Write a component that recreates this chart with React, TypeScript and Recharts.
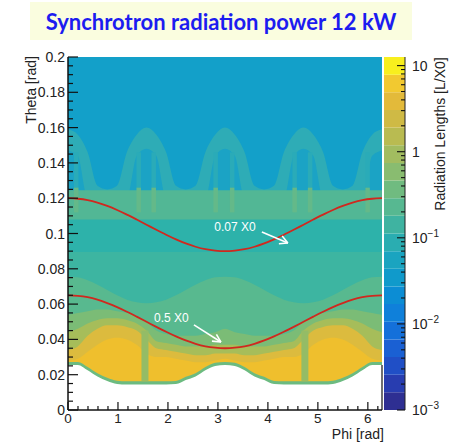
import React from 'react';
import {
  Area,
  Bar,
  BarChart,
  ComposedChart,
  Line,
  ReferenceArea,
  ReferenceDot,
  ReferenceLine,
  XAxis,
  YAxis,
} from 'recharts';

const FONT = '"Liberation Sans", Arial, Helvetica, sans-serif';

// phi grid 0 .. 2pi (pi/16 steps)
const phi = [0, 0.196, 0.393, 0.589, 0.785, 0.982, 1.178, 1.374, 1.571, 1.767, 1.963, 2.16, 2.356, 2.553, 2.749, 2.945, 3.142,
  3.338, 3.534, 3.731, 3.927, 4.123, 4.32, 4.516, 4.712, 4.909, 5.105, 5.301, 5.498, 5.694, 5.89, 6.087, 6.283];

// upper edges (theta) of each material-map band
const archOuter = [0.159, 0.156, 0.146, 0.127, 0.125, 0.127, 0.146, 0.156, 0.16, 0.156, 0.146, 0.127, 0.125, 0.127, 0.146, 0.156, 0.16,
  0.156, 0.146, 0.127, 0.125, 0.127, 0.146, 0.156, 0.16, 0.156, 0.146, 0.127, 0.125, 0.127, 0.146, 0.156, 0.159];
const archInner = [0.147, 0.144, 0.12, 0.12, 0.12, 0.12, 0.12, 0.144, 0.148, 0.144, 0.12, 0.12, 0.12, 0.12, 0.12, 0.144, 0.148,
  0.144, 0.12, 0.12, 0.12, 0.12, 0.12, 0.144, 0.148, 0.144, 0.12, 0.12, 0.12, 0.12, 0.12, 0.144, 0.147];
const greenTop = [0.1245, 0.1245, 0.1245, 0.1245, 0.1245, 0.1245, 0.1245, 0.1245, 0.1245, 0.1245, 0.1245, 0.1245, 0.1245, 0.1245, 0.1245, 0.1245, 0.1245,
  0.1245, 0.1245, 0.1245, 0.1245, 0.1245, 0.1245, 0.1245, 0.1245, 0.1245, 0.1245, 0.1245, 0.1245, 0.1245, 0.1245, 0.1245, 0.1245];
const tealTop = [0.108, 0.108, 0.108, 0.108, 0.108, 0.108, 0.108, 0.108, 0.108, 0.108, 0.108, 0.108, 0.108, 0.108, 0.108, 0.108, 0.108,
  0.108, 0.108, 0.108, 0.108, 0.108, 0.108, 0.108, 0.108, 0.108, 0.108, 0.108, 0.108, 0.108, 0.108, 0.108, 0.108];
const bowlTop = [0.0895, 0.0895, 0.0895, 0.0895, 0.0895, 0.0895, 0.0895, 0.0895, 0.0895, 0.0895, 0.0895, 0.0895, 0.0895, 0.0895, 0.0895, 0.0895, 0.0895,
  0.0895, 0.0895, 0.0895, 0.0895, 0.0895, 0.0895, 0.0895, 0.0895, 0.0895, 0.0895, 0.0895, 0.0895, 0.0895, 0.0895, 0.0895, 0.0895];
const bowlBottom = [0.0755, 0.0752, 0.0735, 0.071, 0.068, 0.065, 0.0625, 0.061, 0.0605, 0.061, 0.0625, 0.065, 0.068, 0.071, 0.0735, 0.0752, 0.0755,
  0.0752, 0.0735, 0.071, 0.068, 0.065, 0.0625, 0.061, 0.0605, 0.061, 0.0625, 0.065, 0.068, 0.071, 0.0735, 0.0752, 0.0755];
const oliveTop = [0.054, 0.055, 0.056, 0.057, 0.057, 0.056, 0.055, 0.053, 0.05, 0.045, 0.043, 0.042, 0.042, 0.042, 0.043, 0.044, 0.046,
  0.044, 0.043, 0.042, 0.042, 0.042, 0.043, 0.045, 0.05, 0.053, 0.055, 0.056, 0.057, 0.057, 0.056, 0.055, 0.054];
const yelOliveTop = [0.044, 0.046, 0.049, 0.051, 0.052, 0.052, 0.051, 0.049, 0.045, 0.039, 0.038, 0.037, 0.036, 0.036, 0.036, 0.037, 0.037,
  0.037, 0.036, 0.036, 0.036, 0.037, 0.038, 0.039, 0.045, 0.049, 0.051, 0.052, 0.052, 0.051, 0.049, 0.046, 0.044];
const yellowTop = [0.034, 0.036, 0.042, 0.046, 0.048, 0.048, 0.047, 0.045, 0.04, 0.035, 0.034, 0.033, 0.032, 0.031, 0.031, 0.032, 0.032,
  0.032, 0.031, 0.031, 0.032, 0.033, 0.034, 0.035, 0.04, 0.045, 0.047, 0.048, 0.048, 0.046, 0.042, 0.036, 0.034];
const goldTop = [0.028, 0.029, 0.033, 0.037, 0.04, 0.041, 0.04, 0.037, 0.032, 0.03, 0.03, 0.029, 0.028, 0.027, 0.027, 0.028, 0.029,
  0.028, 0.027, 0.027, 0.028, 0.029, 0.03, 0.03, 0.032, 0.037, 0.04, 0.041, 0.04, 0.037, 0.033, 0.029, 0.028];
const edgeTop = [0.0272, 0.0272, 0.0243, 0.0208, 0.0183, 0.0166, 0.0163, 0.0163, 0.0163, 0.0163, 0.0163, 0.0165, 0.0188, 0.0208, 0.0243, 0.0268, 0.0272,
  0.0268, 0.0243, 0.0208, 0.0188, 0.0165, 0.0163, 0.0163, 0.0163, 0.0163, 0.0163, 0.0166, 0.0183, 0.0208, 0.0243, 0.0272, 0.0272];
const emptyTop = [0.0255, 0.0255, 0.0225, 0.019, 0.0165, 0.0148, 0.0145, 0.0145, 0.0145, 0.0145, 0.0145, 0.0147, 0.017, 0.019, 0.0225, 0.025, 0.0255,
  0.025, 0.0225, 0.019, 0.017, 0.0147, 0.0145, 0.0145, 0.0145, 0.0145, 0.0145, 0.0148, 0.0165, 0.019, 0.0225, 0.0255, 0.0255];

// iso-contours
const contour007 = [0.12, 0.1197, 0.1189, 0.1175, 0.1156, 0.1133, 0.1107, 0.1079, 0.105, 0.1021, 0.0993, 0.0967, 0.0944, 0.0925, 0.0911, 0.0903, 0.09,
  0.0903, 0.0911, 0.0925, 0.0944, 0.0967, 0.0993, 0.1021, 0.105, 0.1079, 0.1107, 0.1133, 0.1156, 0.1175, 0.1189, 0.1197, 0.12];
const contour05 = [0.065, 0.0647, 0.0639, 0.0625, 0.0606, 0.0583, 0.0557, 0.0529, 0.05, 0.0471, 0.0443, 0.0417, 0.0394, 0.0375, 0.0361, 0.0353, 0.035,
  0.0353, 0.0361, 0.0375, 0.0394, 0.0417, 0.0443, 0.0471, 0.05, 0.0529, 0.0557, 0.0583, 0.0606, 0.0625, 0.0639, 0.0647, 0.065];

// narrow vertical structures
const beamStripeFrom = [1.47, 4.67];
const beamStripeTo = [1.61, 4.81];
const beamStripeTop = [0.045, 0.045];
const lightStripeFrom = [0.12, 1.37, 1.67, 2.91, 3.24, 4.49, 4.8, 5.95];
const lightStripeTo = [0.21, 1.46, 1.76, 3.0, 3.33, 4.58, 4.89, 6.04];

const layers = [
  { key: 'archOuter', color: '#2eacb6' },
  { key: 'archInner', color: '#1ba3c5' },
  { key: 'greenTop', color: '#52b795' },
  { key: 'tealTop', color: '#2db2aa' },
  { key: 'bowlTop', color: '#3db5a1' },
  { key: 'bowlBottom', color: '#58b98f' },
  { key: 'oliveTop', color: '#7bbc76' },
  { key: 'yelOliveTop', color: '#a6bd5a' },
  { key: 'yellowTop', color: '#dcbb3e' },
  { key: 'goldTop', color: '#efbf2d' },
  { key: 'edgeTop', color: '#6cbb80' },
  { key: 'emptyTop', color: '#ffffff' },
];

const data = phi.map((p, i) => ({
  phi: p,
  archOuter: archOuter[i],
  archInner: archInner[i],
  greenTop: greenTop[i],
  tealTop: tealTop[i],
  bowlTop: bowlTop[i],
  bowlBottom: bowlBottom[i],
  oliveTop: oliveTop[i],
  yelOliveTop: yelOliveTop[i],
  yellowTop: yellowTop[i],
  goldTop: goldTop[i],
  edgeTop: edgeTop[i],
  emptyTop: emptyTop[i],
  c007: contour007[i],
  c05: contour05[i],
}));

// annotations: [phi, theta]
const arrow007 = [[3.88, 0.1008], [4.4, 0.0946], [4.286, 0.0986], [4.22, 0.0942]];
const arrow05 = [[2.52, 0.0482], [3.06, 0.0385], [2.97, 0.0429], [2.88, 0.039]];
const notes = [
  { text: '0.07 X0', phi: 3.34, theta: 0.1037 },
  { text: '0.5 X0', phi: 2.07, theta: 0.0521 },
];

const phiTicks = Array.from({ length: 32 }, (_, i) => +(i * 0.2).toFixed(1));
const thetaTicks = Array.from({ length: 41 }, (_, i) => +(i * 0.005).toFixed(3));

// colour scale: 20 contour bands, log10 range
const zMinExp = -3;
const zMaxExp = 1.1;
const bandColors = ['#2e2f92', '#283db0', '#204fc6', '#1a60d3', '#1470da', '#0f80da', '#0c8dd4', '#109acb', '#1aa4c0', '#2aadb1',
  '#3fb3a1', '#57b891', '#70bb80', '#89bc70', '#a2bc60', '#b9bb51', '#cfba45', '#e3ba3a', '#f2c930', '#f8ef1e'];
const zDecades = [-3, -2, -1, 0, 1];

const zSpan = zMaxExp - zMinExp;
const zRow: Record<string, number | string> = { name: 'z' };
bandColors.forEach((_, i) => {
  zRow[`b${i}`] = zSpan / bandColors.length;
});
const zTicks: number[] = [];
zDecades.forEach((d) => {
  zTicks.push(d - zMinExp);
  if (d < 1) for (let m = 2; m <= 9; m++) zTicks.push(d - zMinExp + Math.log10(m));
});

const isMajor = (v: number, step: number) => Math.abs(v / step - Math.round(v / step)) < 1e-6;

function ThetaTick({ x, y, payload }: any) {
  const v = payload.value as number;
  const major = isMajor(v, 0.02);
  return (
    <g>
      <line x1={x} y1={y} x2={x + (major ? 10 : 5)} y2={y} stroke="#111" strokeWidth={1.2} />
      {major && (
        <text x={x - 3} y={y + 5} textAnchor="end" fontSize={14} fill="#222" fontFamily={FONT}>
          {v === 0 ? '0' : String(+v.toFixed(2))}
        </text>
      )}
    </g>
  );
}

function PhiTick({ x, y, payload }: any) {
  const v = payload.value as number;
  const major = isMajor(v, 1);
  return (
    <g>
      <line x1={x} y1={y} x2={x} y2={y - (major ? 8 : 4)} stroke="#111" strokeWidth={1.2} />
      {major && (
        <text x={x} y={y + 13} textAnchor="middle" fontSize={13.5} fill="#222" fontFamily={FONT}>
          {String(Math.round(v))}
        </text>
      )}
    </g>
  );
}

function ZTick({ x, y, payload }: any) {
  const v = payload.value as number;
  const major = isMajor(v, 1);
  const e = Math.round(v + zMinExp);
  return (
    <g>
      <line x1={x - (major ? 8 : 4)} y1={y} x2={x} y2={y} stroke="#111" strokeWidth={1.1} />
      {major && (
        <text x={x + 7} y={y + 5} fontSize={14} fill="#222" fontFamily={FONT}>
          {e === 0 ? '1' : '10'}
          {e < 0 && (
            <tspan dy={-6} fontSize={10}>
              {`\u2212${-e}`}
            </tspan>
          )}
        </text>
      )}
    </g>
  );
}

function arrowSegments(a: number[][]) {
  return [
    [a[0], a[1]],
    [a[1], a[2]],
    [a[1], a[3]],
  ].map((s) => s.map(([px, py]) => ({ x: px, y: py })));
}

export default function App() {
  return (
    <div style={{ position: 'absolute', left: 0, top: 0, width: 466, height: 442, background: '#fff', fontFamily: FONT }}>
      <div
        style={{
          position: 'absolute',
          left: 30,
          top: 2,
          width: 382,
          height: 38,
          background: '#fafddf',
          color: '#1c1cf0',
          fontFamily: 'Lato, "Open Sans", sans-serif',
          fontWeight: 700,
          fontSize: 22,
          display: 'flex',
          alignItems: 'center',
          justifyContent: 'center',
        }}
      >
        Synchrotron radiation power 12 kW
      </div>

      <div style={{ position: 'absolute', left: 0, top: 0 }}>
        <ComposedChart width={466} height={442} data={data} margin={{ top: 57, right: 84, bottom: 2, left: 28 }}>
          <XAxis
            type="number"
            dataKey="phi"
            domain={[0, 6.2832]}
            allowDataOverflow
            ticks={phiTicks}
            interval={0}
            tick={PhiTick}
            tickLine={false}
            tickSize={0}
            tickMargin={0}
            height={30}
            axisLine={{ stroke: '#111', strokeWidth: 1.5 }}
          />
          <YAxis
            type="number"
            domain={[0, 0.2]}
            allowDataOverflow
            ticks={thetaTicks}
            interval={0}
            tick={ThetaTick}
            tickLine={false}
            tickSize={0}
            tickMargin={0}
            width={40}
            axisLine={{ stroke: '#111', strokeWidth: 1.5 }}
          />
          <Area
            dataKey={() => 0.2}
            type="linear"
            stroke="none"
            fill="#13a0c9"
            fillOpacity={1}
            dot={false}
            activeDot={false}
            isAnimationActive={false}
          />
          {layers.map((l) => (
            <Area
              key={l.key}
              dataKey={l.key}
              type="monotone"
              stroke="none"
              fill={l.color}
              fillOpacity={1}
              dot={false}
              activeDot={false}
              isAnimationActive={false}
            />
          ))}
          {lightStripeFrom.map((p, i) => (
            <ReferenceArea key={`lf${i}`} x1={p} x2={lightStripeTo[i]} y1={0.126} y2={0.146} fill="#2aabb8" fillOpacity={1} stroke="none" />
          ))}
          {lightStripeFrom.map((p, i) => (
            <ReferenceArea key={`lb${i}`} x1={p} x2={lightStripeTo[i]} y1={0.112} y2={0.126} fill="#64b989" fillOpacity={1} stroke="none" />
          ))}
          {beamStripeFrom.map((p, i) => (
            <ReferenceArea key={`bs${i}`} x1={p} x2={beamStripeTo[i]} y1={0.0165} y2={beamStripeTop[i]} fill="#94bc66" fillOpacity={1} stroke="none" />
          ))}
          <ReferenceLine segment={[{ x: 6.2832, y: 0 }, { x: 6.2832, y: 0.0255 }]} stroke="#111" strokeWidth={1.2} />
          <Line dataKey="c007" type="monotone" stroke="#d0281e" strokeWidth={1.8} dot={false} activeDot={false} isAnimationActive={false} />
          <Line dataKey="c05" type="monotone" stroke="#d0281e" strokeWidth={1.8} dot={false} activeDot={false} isAnimationActive={false} />
          {[...arrowSegments(arrow007), ...arrowSegments(arrow05)].map((seg, i) => (
            <ReferenceLine key={`ar${i}`} segment={seg} stroke="#fff" strokeWidth={1.6} />
          ))}
          {notes.map((n) => (
            <ReferenceDot
              key={n.text}
              x={n.phi}
              y={n.theta}
              r={0}
              stroke="none"
              fill="none"
              label={{ value: n.text, position: 'center', fill: '#fff', fontSize: 12, fontFamily: FONT }}
            />
          ))}
        </ComposedChart>
      </div>

      <div style={{ position: 'absolute', left: 384, top: 0 }}>
        <BarChart width={82} height={442} data={[zRow]} margin={{ top: 57, right: 0, bottom: 32, left: 0 }} barCategoryGap={0} barGap={0}>
          <XAxis dataKey="name" hide />
          <YAxis
            orientation="right"
            type="number"
            domain={[0, zSpan]}
            allowDataOverflow
            ticks={zTicks}
            interval={0}
            tick={ZTick}
            tickLine={false}
            tickSize={0}
            tickMargin={0}
            width={61}
            axisLine={{ stroke: '#222', strokeWidth: 1 }}
          />
          {bandColors.map((c, i) => (
            <Bar key={c} dataKey={`b${i}`} stackId="z" fill={c} isAnimationActive={false} />
          ))}
        </BarChart>
      </div>

      <div
        style={{
          position: 'absolute',
          left: 31,
          top: 90,
          transform: 'translate(-50%, -50%) rotate(-90deg)',
          whiteSpace: 'nowrap',
          fontSize: 14,
          color: '#222',
        }}
      >
        Theta [rad]
      </div>
      <div style={{ position: 'absolute', right: 82, top: 427, whiteSpace: 'nowrap', fontSize: 14, lineHeight: '14px', color: '#222' }}>
        Phi [rad]
      </div>
      <div
        style={{
          position: 'absolute',
          left: 440,
          top: 134,
          transform: 'translate(-50%, -50%) rotate(-90deg)',
          whiteSpace: 'nowrap',
          fontSize: 14,
          color: '#222',
        }}
      >
        Radiation Lengths [L/X0]
      </div>
    </div>
  );
}
